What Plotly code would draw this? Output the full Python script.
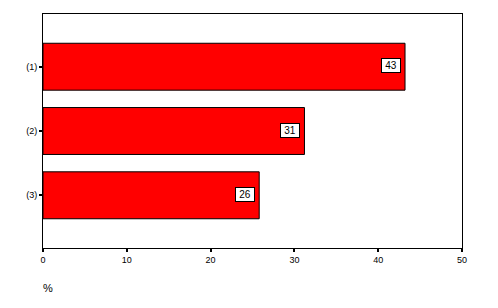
import plotly.graph_objects as go

categories = ["(1)", "(2)", "(3)"]
values = [43.2, 31.2, 25.8]
value_labels = ["43", "31", "26"]
x_ticks = [0, 10, 20, 30, 40, 50]

FONT = "Liberation Sans, Arial"

fig = go.Figure()
fig.add_trace(go.Bar(
    y=categories, x=values, orientation="h",
    marker=dict(color="#ff0000", line=dict(color="black", width=1)),
    width=0.73, showlegend=False, hoverinfo="skip",
))

for c, v, t in zip(categories, values, value_labels):
    fig.add_annotation(
        x=v, y=c, xref="x", yref="y", text=t, showarrow=False,
        xshift=-14, yshift=1, width=16, height=11, align="center",
        bgcolor="white", bordercolor="black", borderwidth=1, borderpad=1,
        font=dict(family=FONT, size=10, color="black"),
    )

fig.add_annotation(
    x=(48 - 43) / (462.5 - 43), y=(248.3 - 288) / (248.3 - 14),
    xref="paper", yref="paper", text="%", showarrow=False,
    xanchor="center", yanchor="middle",
    font=dict(family=FONT, size=11, color="black"),
)

fig.update_layout(
    template="none",
    width=498, height=308,
    margin=dict(l=43, r=35.5, t=14, b=59.7, pad=0),
    plot_bgcolor="white", paper_bgcolor="white",
    font=dict(family=FONT, size=9, color="black"),
    xaxis=dict(
        range=[0, 50], tickvals=x_ticks, ticktext=[str(t) for t in x_ticks],
        showgrid=False, zeroline=False, showline=True, linecolor="black", linewidth=1,
        mirror=True, ticks="outside", ticklen=3, tickwidth=2, tickcolor="black",
        tickfont=dict(family=FONT, size=9, color="black"),
    ),
    yaxis=dict(
        categoryorder="array", categoryarray=categories,
        range=[2.82, -0.82], showgrid=False, zeroline=False,
        showline=True, linecolor="black", linewidth=1, mirror=True,
        ticks="outside", ticklen=3, tickwidth=2, tickcolor="black",
        tickfont=dict(family=FONT, size=9, color="black"),
    ),
)

fig.write_html("out.html")
